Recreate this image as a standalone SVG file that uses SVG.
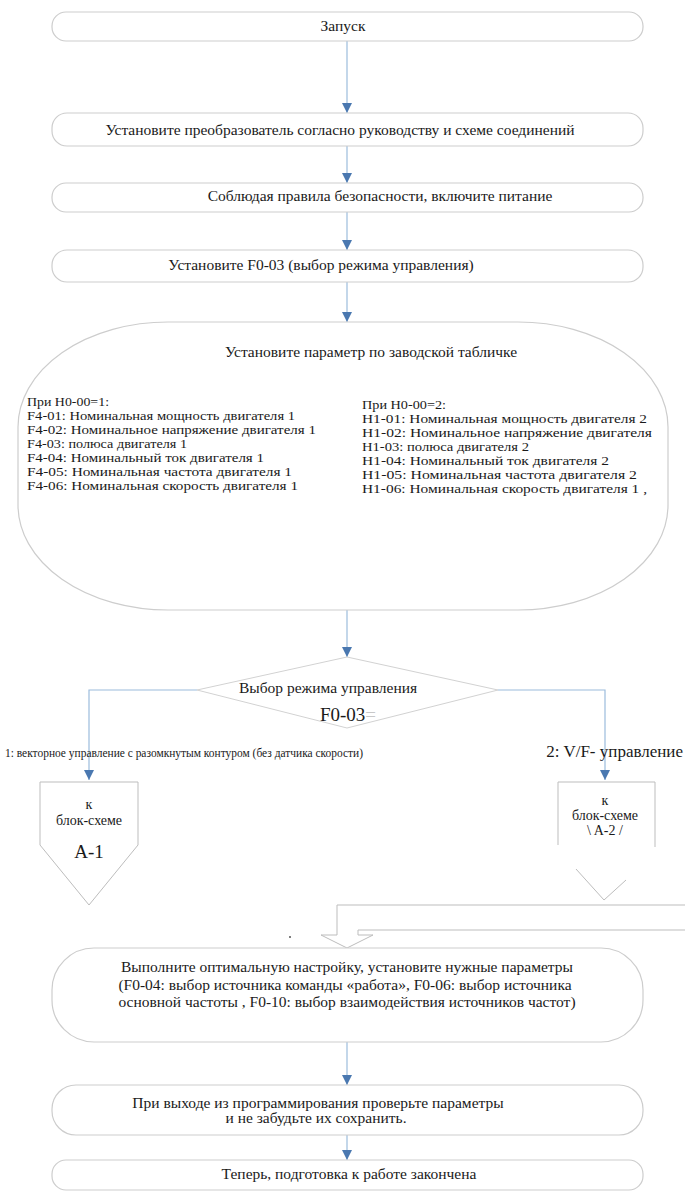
<svg xmlns="http://www.w3.org/2000/svg" width="685" height="1198" viewBox="0 0 685 1198" font-family="'Liberation Serif','Times New Roman',serif">
<style>
.bx{fill:#fff;stroke:#cdcdcd;stroke-width:1.2}
.t{font-family:"Liberation Serif","Times New Roman",serif;font-size:15.5px;fill:#1a1a1a}
.s{font-size:13.5px}
.c{text-anchor:middle}
.ln{fill:none;stroke:#9cbcdc;stroke-width:1.2}
.gl{fill:none;stroke:#bdbdbd;stroke-width:1}
</style>
<defs>
<marker id="ah" viewBox="0 0 10 10" refX="10" refY="5" markerWidth="10" markerHeight="10" markerUnits="userSpaceOnUse" orient="auto">
<path d="M0,0 L10,5 L0,10 Z" fill="#4a78b0"/>
</marker>
</defs>
<rect width="685" height="1198" fill="#fff"/>
<g id="connectors">
<path class="ln" d="M347,41 V113" marker-end="url(#ah)"/>
<path class="ln" d="M347,146 V183" marker-end="url(#ah)"/>
<path class="ln" d="M347,212 V250" marker-end="url(#ah)"/>
<path class="ln" d="M347,282 V322" marker-end="url(#ah)"/>
<path class="ln" d="M347,610 V657" marker-end="url(#ah)"/>
<path class="ln" d="M197,690 H89 V780" marker-end="url(#ah)"/>
<path class="ln" d="M498,690 H605 V780" marker-end="url(#ah)"/>
<path class="ln" d="M347,1042 V1085" marker-end="url(#ah)"/>
<path class="ln" d="M347,1135 V1160" marker-end="url(#ah)"/>
<path class="gl" d="M685,905 H337 V935 H321 L347,948 L373,935 H358 V930 H685"/>
</g>
<g id="n1"><rect class="bx" x="52" y="12" width="591" height="29" rx="14"/><text class="t c" x="343" y="31">Запуск</text></g>
<g id="n2"><rect class="bx" x="52" y="113" width="591" height="33" rx="15"/><text class="t c" x="340" y="135">Установите преобразователь согласно руководству и схеме соединений</text></g>
<g id="n3"><rect class="bx" x="52" y="183" width="591" height="29" rx="14"/><text class="t c" x="380" y="201">Соблюдая правила безопасности, включите питание</text></g>
<g id="n4"><rect class="bx" x="52" y="250" width="591" height="32" rx="15"/><text class="t c" x="321" y="270">Установите F0-03 (выбор режима управления)</text></g>
<g id="n5">
<rect class="bx" x="18" y="322" width="650" height="288" rx="150" ry="105"/>
<text class="t c" x="371" y="357">Установите параметр по заводской табличке</text>
<text class="t s" x="27" y="406" textLength="82" lengthAdjust="spacingAndGlyphs">При H0-00=1:</text>
<text class="t s" x="27" y="420" textLength="268" lengthAdjust="spacingAndGlyphs">F4-01: Номинальная мощность двигателя 1</text>
<text class="t s" x="27" y="434" textLength="289" lengthAdjust="spacingAndGlyphs">F4-02: Номинальное напряжение двигателя 1</text>
<text class="t s" x="27" y="448" textLength="160" lengthAdjust="spacingAndGlyphs">F4-03: полюса двигателя 1</text>
<text class="t s" x="27" y="462" textLength="237" lengthAdjust="spacingAndGlyphs">F4-04: Номинальный ток двигателя 1</text>
<text class="t s" x="27" y="476" textLength="265" lengthAdjust="spacingAndGlyphs">F4-05: Номинальная частота двигателя 1</text>
<text class="t s" x="27" y="490" textLength="271" lengthAdjust="spacingAndGlyphs">F4-06: Номинальная скорость двигателя 1</text>
<text class="t s" x="362" y="409" textLength="84" lengthAdjust="spacingAndGlyphs">При H0-00=2:</text>
<text class="t s" x="362" y="423" textLength="285" lengthAdjust="spacingAndGlyphs">H1-01: Номинальная мощность двигателя 2</text>
<text class="t s" x="362" y="437" textLength="290" lengthAdjust="spacingAndGlyphs">H1-02: Номинальное напряжение двигателя</text>
<text class="t s" x="362" y="451" textLength="167" lengthAdjust="spacingAndGlyphs">H1-03: полюса двигателя 2</text>
<text class="t s" x="362" y="465" textLength="247" lengthAdjust="spacingAndGlyphs">H1-04: Номинальный ток двигателя 2</text>
<text class="t s" x="362" y="479" textLength="275" lengthAdjust="spacingAndGlyphs">H1-05: Номинальная частота двигателя 2</text>
<text class="t s" x="362" y="493" textLength="285" lengthAdjust="spacingAndGlyphs">H1-06: Номинальная скорость двигателя 1 ,</text>
</g>
<g id="n6">
<polygon points="347,657 498,690 347,728 197,690" fill="#fff" stroke="#d2d2d2" stroke-width="1"/>
<text class="t c" x="328" y="693">Выбор режима управления</text>
<text class="t c" x="348" y="721" style="font-size:19px">F0-03<tspan fill="#c8c8c8">=</tspan></text>
</g>
<g id="l1"><text class="t" x="5" y="757" style="font-size:13.5px" textLength="358" lengthAdjust="spacingAndGlyphs">1: векторное управление с разомкнутым контуром (без датчика скорости)</text></g>
<g id="l2"><text class="t" x="683" y="757" style="font-size:17px;text-anchor:end">2: V/F- управление</text></g>
<g id="n7">
<polygon points="40,782 138,782 138,845 89,905 40,845" fill="#fff" stroke="#bdbdbd" stroke-width="1"/>
<text class="t c" x="89" y="809" style="font-size:14px">к</text>
<text class="t c" x="89" y="825" style="font-size:14px">блок-схеме</text>
<text class="t c" x="89" y="858" style="font-size:19px">A-1</text>
</g>
<g id="n8">
<path class="gl" d="M558,845 V782 H655 V847"/>
<path class="gl" d="M576,869 L604,900 M604,900 L626,880"/>
<text class="t c" x="605" y="805" style="font-size:14px">к</text>
<text class="t c" x="605" y="820" style="font-size:14px">блок-схеме</text>
<text class="t c" x="605" y="835" style="font-size:14px">\ A-2 /</text>
</g>
<g id="n9">
<rect class="bx" x="52" y="948" width="591" height="94" rx="42" ry="42"/>
<circle cx="290" cy="937" r="1" fill="#555"/>
<text class="t c" x="347" y="972">Выполните оптимальную настройку, установите нужные параметры</text>
<text class="t c" x="345" y="990">(F0-04: выбор источника команды «работа», F0-06: выбор источника</text>
<text class="t c" x="347" y="1007">основной частоты , F0-10: выбор взаимодействия источников частот)</text>
</g>
<g id="n10">
<rect class="bx" x="52" y="1085" width="591" height="50" rx="24" ry="24"/>
<text class="t c" x="318" y="1108">При выходе из программирования проверьте параметры</text>
<text class="t c" x="316" y="1123">и не забудьте их сохранить.</text>
</g>
<g id="n11">
<rect class="bx" x="52" y="1160" width="591" height="30" rx="14"/>
<text class="t c" x="349" y="1179">Теперь, подготовка к работе закончена</text>
</g>
</svg>
